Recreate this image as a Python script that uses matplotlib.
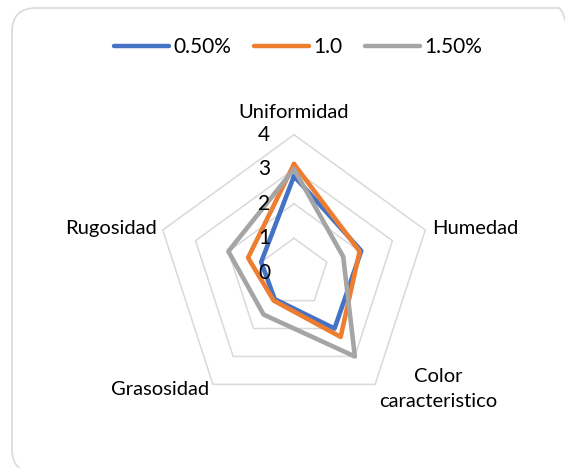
import numpy as np
import matplotlib
matplotlib.use("Agg")
import matplotlib.pyplot as plt
from matplotlib.patches import FancyBboxPatch
from matplotlib.lines import Line2D
from matplotlib.transforms import IdentityTransform, offset_copy

plt.rcParams['font.family'] = ['Lato', 'DejaVu Sans']

# ---- data ----
categories = ['Uniformidad', 'Humedad', 'Color\ncaracteristico', 'Grasosidad', 'Rugosidad']
series_names = ['0.50%', '1.0', '1.50%']
s_050 = [2.8, 2.05, 2.0, 0.95, 1.0]
s_10 = [3.15, 2.0, 2.3, 1.0, 1.4]
s_150 = [3.0, 1.5, 3.0, 1.5, 2.0]
radial_ticks = [0, 1, 2, 3, 4]

colors = ['#4472C4', '#ED7D31', '#A5A5A5']
grid_color = '#D9D9D9'

W, H = 565, 468
fig = plt.figure(figsize=(W / 100, H / 100), dpi=100)

# rounded chart border (extends past right/bottom edges as in the reference)
border = FancyBboxPatch((12, -5), 570, 468 - 8 + 5,
                        boxstyle="round,pad=0,rounding_size=24",
                        transform=IdentityTransform(), fill=False,
                        edgecolor='#D9D9D9', linewidth=1.2, clip_on=False)
fig.patches.append(border)

cx, cy, R = 294, 272.7, 138
ax = fig.add_axes([(cx - R) / W, (H - cy - R) / H, 2 * R / W, 2 * R / H], projection='polar')
ax.set_theta_zero_location('N')
ax.set_theta_direction(-1)
ax.set_ylim(0, 4)
ax.grid(False)
ax.set_xticks([])
ax.set_yticks([])
ax.spines['polar'].set_visible(False)
ax.patch.set_alpha(0)

n = len(categories)
theta = np.arange(n) * 2 * np.pi / n
theta_c = np.append(theta, theta[0])

# pentagon gridlines
for r in radial_ticks[1:]:
    ax.plot(theta_c, [r] * (n + 1), color=grid_color, lw=1.1, zorder=1, clip_on=False)

for vals, col, name in zip([s_050, s_10, s_150], colors, series_names):
    v = np.append(vals, vals[0])
    ax.plot(theta_c, v, color=col, lw=3.3, solid_joinstyle='round',
            solid_capstyle='round', zorder=3, label=name, clip_on=False)

# radial tick labels
tr = offset_copy(ax.transData, fig=fig, x=-30, y=0, units='dots')
for r in radial_ticks:
    ax.text(0, r, str(r), transform=tr, ha='center', va='center', fontsize=15, color='#000000')

# category labels
offsets = [(0, 21.7, 'center'), (7, 2, 'left'), (63, -4.4, 'center'), (-4, -4.7, 'right'), (-6, 2, 'right')]
for t, lab, (dx, dy, ha) in zip(theta, categories, offsets):
    trc = offset_copy(ax.transData, fig=fig, x=dx, y=dy, units='dots')
    ax.text(t, 4, lab, transform=trc, ha=ha, va='center', fontsize=14.5,
            multialignment='center', color='#000000', linespacing=1.6)

handles = [Line2D([0], [0], color=c, lw=3.2, solid_capstyle='round') for c in colors]
fs = 15
fig.legend(handles, series_names, loc='center', bbox_to_anchor=(298 / W, 1 - 47 / H),
           ncol=3, frameon=False, fontsize=fs, handlelength=2.64, handletextpad=0.19,
           columnspacing=1.1, borderaxespad=0, borderpad=0)

fig.savefig('out.png', dpi=100)
